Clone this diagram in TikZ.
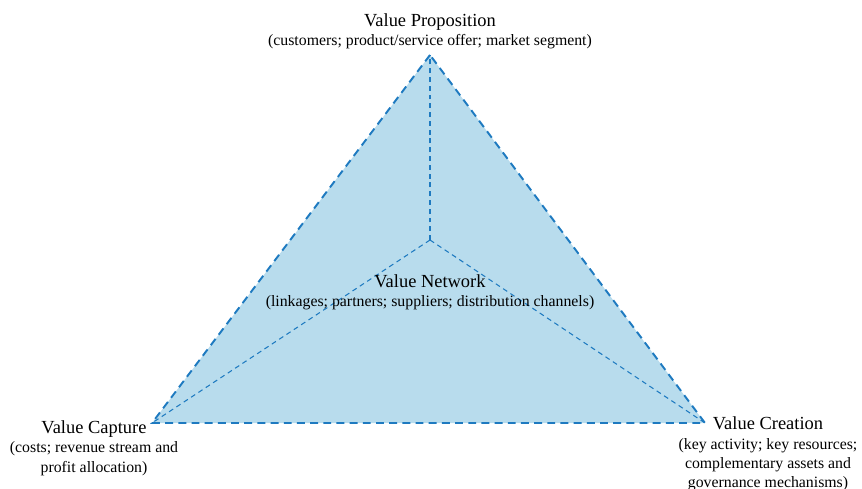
\documentclass[tikz,border=0pt]{standalone}
\usepackage{fontspec}
\setmainfont{Liberation Serif}
\usepackage{tikz}
\definecolor{vmfill}{RGB}{184,220,237}
\definecolor{vmline}{RGB}{30,122,192}
\tikzset{
    outer edge/.style={draw=vmline, line width=1.1pt, dash pattern=on 4.5pt off 3pt},
    inner edge/.style={draw=vmline, line width=0.6pt, dash pattern=on 2.8pt off 2.2pt},
    label text/.style={align=center, inner sep=0pt, font=\fontsize{9}{11}\selectfont},
}
\newcommand{\vmtitle}[1]{{\fontsize{10.5}{12}\selectfont #1}}

\begin{document}
\begin{tikzpicture}[x=0.02cm, y=-0.02cm]
\useasboundingbox (0,0) rectangle (862,489);

\coordinate (top) at (430,55);
\coordinate (left) at (152,423);
\coordinate (right) at (705,423);
\coordinate (mid) at (430,240);

\fill[vmfill] (top)--(left)--(right)--cycle;
\draw[inner edge] (mid)--(top);
\draw[inner edge] (mid)--(left);
\draw[inner edge] (mid)--(right);
\draw[outer edge] (top)--(left)--(right)--cycle;

\node[label text] (vp) at (430,31) {\vmtitle{Value Proposition}\\(customers; product/service offer; market segment)};
\node[label text] (vn) at (430,292) {\vmtitle{Value Network}\\(linkages; partners; suppliers; distribution channels)};
\node[label text] (vcap) at (94,448) {\vmtitle{Value Capture}\\(costs; revenue stream and\\profit allocation)};
\node[label text] (vcre) at (768,454) {\vmtitle{Value Creation}\\(key activity; key resources;\\complementary assets and\\governance mechanisms)};
\end{tikzpicture}
\end{document}
